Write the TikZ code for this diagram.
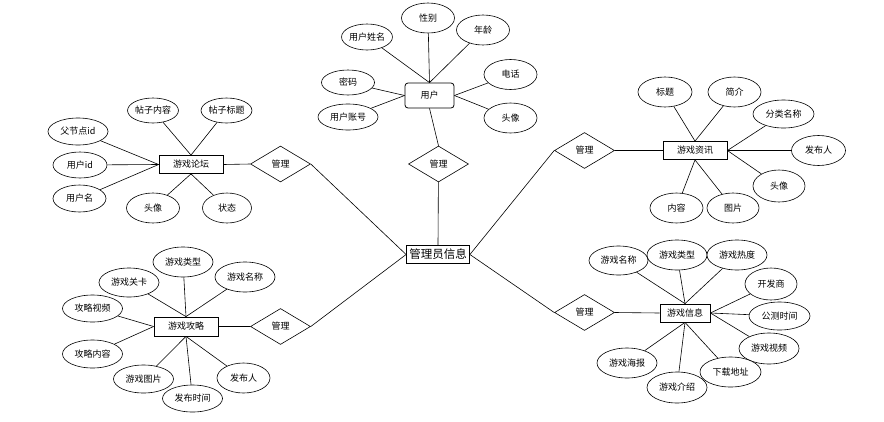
\documentclass[tikz,border=0pt]{standalone}
\usepackage{fontspec}
\setmainfont{Noto Sans CJK SC}
\usetikzlibrary{shapes.geometric}

\begin{document}
\begin{tikzpicture}[x=1pt,y=-1pt,line width=0.6pt,
	every node/.style={font=\fontsize{9}{10}\selectfont, inner sep=0pt},
	attr/.style={ellipse, draw, fill=white, minimum width=53, minimum height=30},
	longattr/.style={attr, minimum width=60, minimum height=28},
	entity/.style={rectangle, draw, fill=white, line width=0.8pt, minimum width=64, minimum height=18},
	rel/.style={diamond, draw, fill=white, minimum width=60, minimum height=36}]
		\useasboundingbox (0,0) rectangle (884,421);

		% center
		\draw (438,254.5) node [entity, minimum width=63, font=\fontsize{11.5}{13}\selectfont] (admin) {管理员信息};
		\draw (438.5,164) node [rel] (ruser) {管理};
		\draw (280.5,164) node [rel] (rforum) {管理};
		\draw (280.5,326.5) node [rel] (rguide) {管理};
		\draw (584.5,150.5) node [rel] (rnews) {管理};
		\draw (584.5,312.5) node [rel] (rinfo) {管理};

		% user
		\draw (429.5,95.5) node [entity, rounded corners=3pt, minimum width=49, minimum height=25] (user) {用户};
		\draw (367,37) node [attr, minimum width=49, minimum height=26] (uname) {用户姓名};
		\draw (428,18) node [attr] (usex) {性别};
		\draw (483,30) node [attr] (uage) {年龄};
		\draw (510.5,74.5) node [attr] (utel) {电话};
		\draw (510.5,118) node [attr] (uhead) {头像};
		\draw (348,82.5) node [attr, minimum height=25] (upwd) {密码};
		\draw (348,117) node [longattr, minimum height=26] (uacc) {用户账号};

		% forum
		\draw (191,164.5) node [entity] (forum) {游戏论坛};
		\draw (153,110.5) node [attr, minimum width=50, minimum height=25] (fcont) {帖子内容};
		\draw (226.5,110.5) node [attr, minimum width=50, minimum height=25] (ftitle) {帖子标题};
		\draw (78,131.5) node [longattr, minimum height=27] (fpid) {父节点id};
		\draw (80,165) node [attr, minimum width=54, minimum height=26] (fuid) {用户id};
		\draw (79.5,198.5) node [attr, minimum height=27] (funame) {用户名};
		\draw (153,208) node [attr] (fhead) {头像};
		\draw (227,208) node [attr, minimum width=49] (fstate) {状态};

		% guide
		\draw (186,326.5) node [entity, minimum height=19] (guide) {游戏攻略};
		\draw (183,262) node [longattr, minimum height=30] (gtype) {游戏类型};
		\draw (129,282.5) node [longattr, minimum height=29] (glevel) {游戏关卡};
		\draw (245,277) node [longattr, minimum height=30] (gname) {游戏名称};
		\draw (92.5,308.5) node [longattr, minimum height=27] (gvideo) {攻略视频};
		\draw (92.5,354) node [longattr] (gcont) {攻略内容};
		\draw (143.5,379) node [longattr] (gpic) {游戏图片};
		\draw (192.5,398.5) node [longattr, minimum height=27] (gtime) {发布时间};
		\draw (243.5,378) node [attr] (gauthor) {发布人};

		% news
		\draw (695,150.5) node [entity] (news) {游戏资讯};
		\draw (665,92) node [attr, minimum width=54] (ntitle) {标题};
		\draw (734.5,92) node [attr] (nintro) {简介};
		\draw (783.5,114) node [longattr, minimum width=61] (ncat) {分类名称};
		\draw (818.5,150.5) node [attr, minimum width=54] (nauthor) {发布人};
		\draw (779,186) node [attr, minimum width=52, minimum height=32] (nhead) {头像};
		\draw (676.5,208) node [attr] (ncont) {内容};
		\draw (733,208) node [attr, minimum width=52] (npic) {图片};

		% info
		\draw (685,313) node [entity, minimum width=50] (info) {游戏信息};
		\draw (618.5,260.5) node [longattr, minimum width=59, minimum height=29] (iname) {游戏名称};
		\draw (677,255) node [longattr, minimum height=30] (itype) {游戏类型};
		\draw (737,255) node [longattr, minimum height=30] (iheat) {游戏热度};
		\draw (771,284) node [attr, minimum width=52, minimum height=32] (idev) {开发商};
		\draw (779.5,316) node [longattr, minimum width=61] (itest) {公测时间};
		\draw (769,348.5) node [longattr, minimum height=31] (ivideo) {游戏视频};
		\draw (730.5,372) node [longattr, minimum width=61, minimum height=30] (iurl) {下载地址};
		\draw (677,387.5) node [longattr, minimum height=31] (iintro) {游戏介绍};
		\draw (627,363) node [longattr, minimum height=30] (iposter) {游戏海报};

		\draw
		(admin.north) edge (ruser)
		(admin.west) edge (rforum.east)
		(admin.west) edge (rguide.east)
		(admin.east) edge (rnews.west)
		(admin.east) edge (rinfo.west)
		(ruser.north) edge (user.south)
		(rforum.west) edge (forum.east)
		(rguide.west) edge (guide.east)
		(rnews.east) edge (news.west)
		(rinfo.east) edge (info.west);

		\draw
		(user.north) edge (uname)
		(user.north) edge (usex)
		(user.north) edge (uage)
		(user.east) edge (utel)
		(user.east) edge (uhead)
		(user.west) edge (upwd)
		(user.west) edge (uacc);

		\draw
		(forum.north) edge (fcont)
		(forum.north) edge (ftitle)
		(forum.west) edge (fpid)
		(forum.west) edge (fuid)
		(forum.west) edge (funame)
		(forum.south) edge (fhead)
		(forum.south) edge (fstate);

		\draw
		(guide.north) edge (gtype)
		(guide.north) edge (glevel)
		(guide.north) edge (gname)
		(guide.west) edge (gvideo)
		(guide.west) edge (gcont)
		(guide.south) edge (gpic)
		(guide.south) edge (gtime)
		(guide.south) edge (gauthor);

		\draw
		(news.north) edge (ntitle)
		(news.north) edge (nintro)
		(news.east) edge (ncat)
		(news.east) edge (nauthor)
		(news.east) edge (nhead)
		(news.south) edge (ncont)
		(news.south) edge (npic);

		\draw
		(info.north) edge (iname)
		(info.north) edge (itype)
		(info.north) edge (iheat)
		(info.east) edge (idev)
		(info.east) edge (itest)
		(info.east) edge (ivideo)
		(info.south) edge (iurl)
		(info.south) edge (iintro)
		(info.south) edge (iposter);
	\end{tikzpicture}
\end{document}
